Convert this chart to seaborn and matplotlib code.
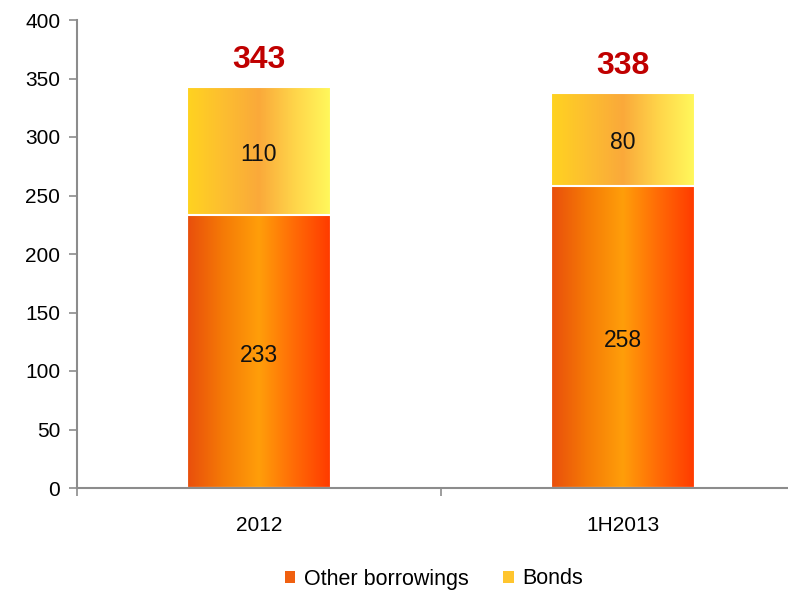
import numpy as np
import pandas as pd
import matplotlib
matplotlib.use("Agg")
import matplotlib.pyplot as plt
from matplotlib.colors import LinearSegmentedColormap
from matplotlib.patches import Rectangle
import seaborn as sns

categories = ["2012", "1H2013"]
other_borrowings = [233, 258]
bonds = [110, 80]
totals = [343, 338]
yticks = [0, 50, 100, 150, 200, 250, 300, 350, 400]

sns.set_style("white")
plt.rcParams['font.family'] = ['Liberation Sans Narrow', 'Liberation Sans', 'DejaVu Sans']
plt.rcParams['text.color'] = '#000000'
plt.rcParams['xtick.color'] = '#000000'
plt.rcParams['ytick.color'] = '#000000'

df = pd.DataFrame({"cat": categories, "other": other_borrowings, "bonds": bonds,
                   "total": [o + b for o, b in zip(other_borrowings, bonds)]})

fig = plt.figure(figsize=(7.88, 5.95), dpi=100)
ax = fig.add_axes([77/788, (595-488)/595, (788-77)/788, (488-20)/595])

bw = 144/364
sns.barplot(data=df, x="cat", y="total", ax=ax, color="#FFC830", width=bw,
            edgecolor="white", linewidth=1.5, saturation=1)
sns.barplot(data=df, x="cat", y="other", ax=ax, color="#FF7A00", width=bw,
            edgecolor="white", linewidth=1.5, saturation=1)

cm_other = LinearSegmentedColormap.from_list("o", ["#E94E0C", "#F57A06", "#FF9E0A", "#FF6A06", "#FF3A00"])
cm_bonds = LinearSegmentedColormap.from_list("b", ["#FFD320", "#FDBE30", "#FAA93A", "#FFD54A", "#FFF95C"])

n = len(categories)
patches = list(ax.patches)
grad = np.linspace(0, 1, 256).reshape(1, -1)
for i, p in enumerate(patches):
    cmap = cm_bonds if i < n else cm_other
    x0, y0 = p.get_x(), p.get_y()
    w, h = p.get_width(), p.get_height()
    p.set_facecolor("none")
    im = ax.imshow(grad, cmap=cmap, aspect="auto", extent=[x0, x0 + w, y0, y0 + h],
                   zorder=p.get_zorder() - 0.1 + (0.05 if i >= n else 0), interpolation="bilinear")
    im.set_clip_path(p)

ax.set_yticks(yticks)
ax.set_xticks([0, 1])
ax.set_xticklabels(categories)
ax.set_xticks([-0.5, 0.5], minor=True)
ax.set_xlabel("")
ax.set_ylabel("")
ax.set_xlim(-0.5, (788-77)/364 - 0.5)
ax.set_ylim(0, 400)

for s in ["top", "right"]:
    ax.spines[s].set_visible(False)
for s in ["left", "bottom"]:
    ax.spines[s].set_color("#8C8C8C")
    ax.spines[s].set_linewidth(1.5)

ax.tick_params(axis="y", which="major", direction="out", length=6, width=1.2, color="#8C8C8C",
               labelsize=15, labelcolor="#000000", left=True, pad=6)
ax.tick_params(axis="x", which="major", length=0, labelsize=15, labelcolor="#000000", pad=20)
ax.tick_params(axis="x", which="minor", direction="out", length=6, width=1.2, color="#8C8C8C", bottom=True)

for i in range(n):
    ax.text(i, other_borrowings[i] / 2 - 3, str(other_borrowings[i]), ha="center", va="center",
            fontsize=16.5, color="#111111", zorder=5)
    ax.text(i, other_borrowings[i] + bonds[i] / 2 - 3, str(bonds[i]), ha="center", va="center",
            fontsize=16.5, color="#111111", zorder=5)
    ax.text(i, totals[i] + 16, str(totals[i]), ha="center", va="baseline",
            fontsize=23, fontweight="bold", color="#C00000", zorder=5)

h1 = Rectangle((0, 0), 1, 1, facecolor="#F06010", edgecolor="none")
h2 = Rectangle((0, 0), 1, 1, facecolor="#FFC52E", edgecolor="none")
fig.legend([h1, h2], ["Other borrowings", "Bonds"], loc="center", bbox_to_anchor=(434/788, 1 - 579/595),
           ncol=2, frameon=False, fontsize=15.5, handlelength=0.5, handleheight=0.5,
           handletextpad=0.4, columnspacing=1.6, labelcolor="#000000")

fig.savefig("out.png", dpi=100)
